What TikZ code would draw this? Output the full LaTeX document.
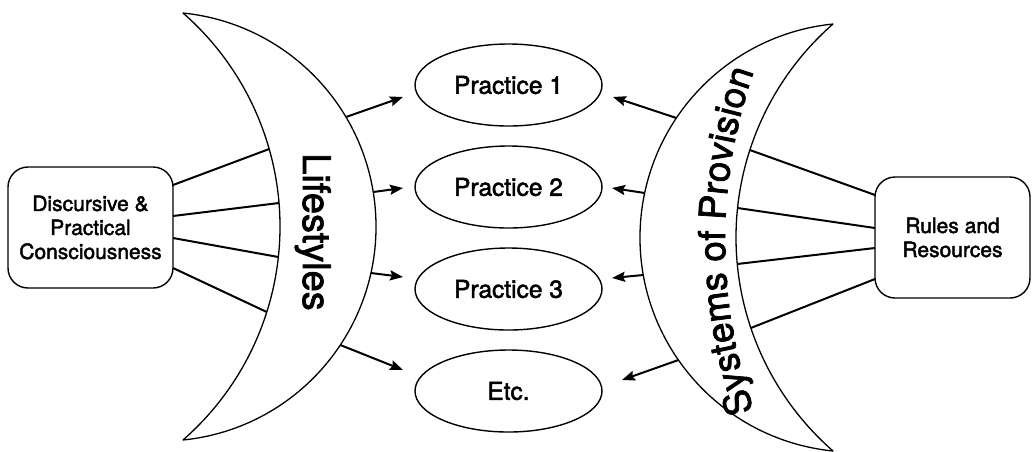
\documentclass[tikz,border=0pt]{standalone}
\usepackage{fontspec}
\setmainfont{TeX Gyre Heros}[FakeBold=2]
\usetikzlibrary{shapes.geometric,arrows.meta,decorations.text}

\begin{document}
\begin{tikzpicture}[x=1pt,y=1pt,
  outline/.style={draw=black, line width=1.3pt, fill=white, line join=round},
  practice/.style={ellipse, draw=black, line width=1.4pt, minimum width=187pt,
    minimum height=82pt, inner sep=0pt, font=\fontsize{24.5}{28}\selectfont},
  sourcebox/.style={draw=black, line width=1.4pt, rounded corners=20pt,
    align=center, inner sep=0pt, font=\fontsize{21}{24}\selectfont},
  link/.style={line width=2pt},
  flow/.style={line width=2pt, -{Stealth[length=13pt,width=10pt,inset=2pt]}}]
\useasboundingbox (0,0) rectangle (1032,-451);

% left crescent (Lifestyles)
\path[outline] (183,-13)
  arc[start angle=48.87, end angle=-48.87, radius=283.46]
  arc[start angle=-84.23, end angle=84.23, radius=214.59] -- cycle;
\node[rotate=-90, anchor=base, inner sep=0pt, font=\fontsize{38}{38}\selectfont]
  (life) at (303,-232) {Lifestyles};

% right crescent (Systems of Provision)
\path[outline] (833,-24)
  arc[start angle=131.13, end angle=228.87, radius=283.46]
  arc[start angle=264.23, end angle=95.77, radius=214.59] -- cycle;
\path[decorate, decoration={text along path, text align=center,
    text={|\fontsize{37}{37}\selectfont|Systems of Provision}}]
  (1237,-241) ++(205:512) arc[start angle=205, end angle=155, radius=512];

% practices
\node[practice] (p1) at (508.5,-85)  {Practice 1};
\node[practice] (p2) at (508.5,-187) {Practice 2};
\node[practice] (p3) at (508.5,-289) {Practice 3};
\node[practice] (p4) at (508.5,-391) {Etc.};

% the two sources
\node[sourcebox, minimum width=165pt, minimum height=121pt] (dpc) at (90.5,-227.5)
  {Discursive \&\\Practical\\Consciousness};
\node[sourcebox, minimum width=155pt, minimum height=121pt] (rr) at (952.5,-237.5)
  {Rules and\\Resources};

% attachment points on the left side
\coordinate (dpc1) at (173,-185);
\coordinate (dpc2) at (173,-216);
\coordinate (dpc3) at (173,-238);
\coordinate (dpc4) at (173,-268);
\coordinate (lin1) at (269.2,-149);
\coordinate (lin2) at (279,-203);
\coordinate (lin3) at (278.4,-257);
\coordinate (lin4) at (266.8,-312);
\coordinate (lout1) at (346,-117);
\coordinate (lout2) at (373.2,-192);
\coordinate (lout3) at (370.9,-273);
\coordinate (lout4) at (340.3,-345);
\coordinate (lt1) at (403,-97);
\coordinate (lt2) at (403,-188);
\coordinate (lt3) at (403,-277);
\coordinate (lt4) at (403,-370);

% attachment points on the right side
\coordinate (rr1) at (875,-195);
\coordinate (rr2) at (875,-228);
\coordinate (rr3) at (875,-248);
\coordinate (rr4) at (875,-279);
\coordinate (rin1) at (749.8,-150);
\coordinate (rin2) at (737.5,-208);
\coordinate (rin3) at (737.2,-264);
\coordinate (rin4) at (750.8,-328);
\coordinate (rout1) at (676.4,-118);
\coordinate (rout2) at (644.7,-193);
\coordinate (rout3) at (643.3,-275);
\coordinate (rout4) at (678.4,-360);
\coordinate (rt1) at (613,-97);
\coordinate (rt2) at (612,-188);
\coordinate (rt3) at (612,-278);
\coordinate (rt4) at (622,-380);

% consciousness feeds lifestyles
\foreach \i in {1,...,4} \draw[link] (dpc\i) -- (lin\i);
% lifestyles feed practices
\foreach \i in {1,...,4} \draw[flow] (lout\i) -- (lt\i);
% rules and resources feed systems of provision
\foreach \i in {1,...,4} \draw[link] (rr\i) -- (rin\i);
% systems of provision feed practices
\foreach \i in {1,...,4} \draw[flow] (rout\i) -- (rt\i);
\end{tikzpicture}
\end{document}
